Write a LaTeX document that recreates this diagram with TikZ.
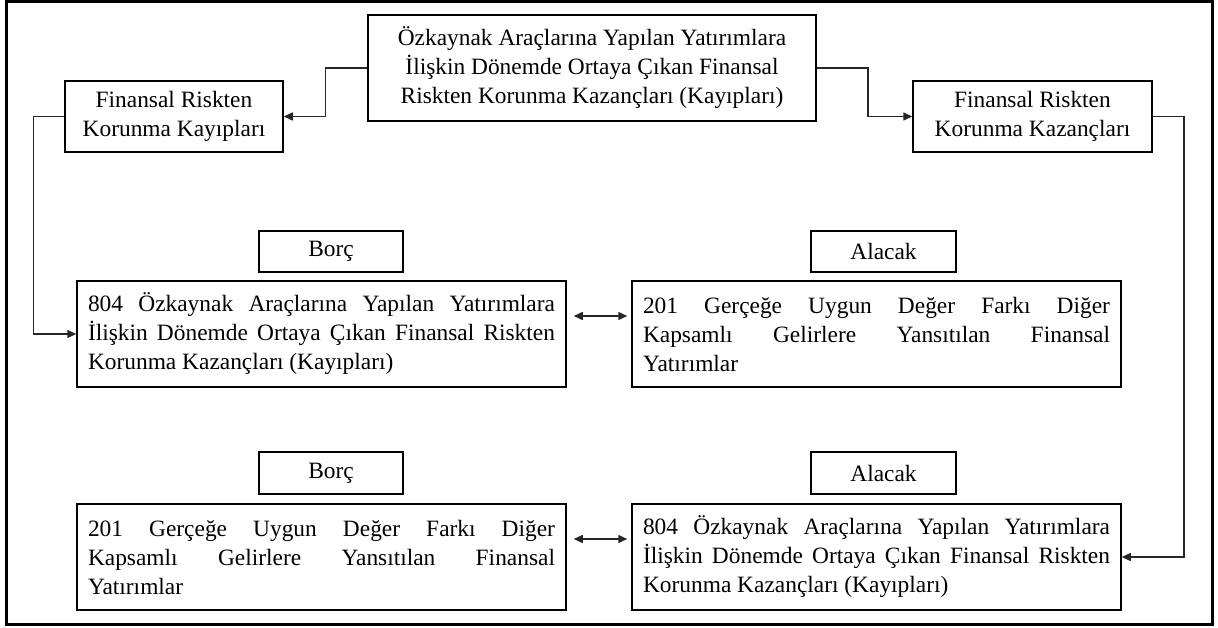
\documentclass[tikz,border=0pt]{standalone}
\usepackage{fontspec}
\setmainfont{Liberation Serif}
\usetikzlibrary{arrows.meta}
\begin{document}
\begin{tikzpicture}[x=1pt,y=-1pt,
  font=\fontsize{23.4}{29}\selectfont,
  box/.style={draw=black,line width=1.5pt,inner sep=0pt,align=center},
  jbox/.style={draw=black,line width=1.5pt,inner xsep=11pt,inner ysep=0pt,
    text width=467pt,minimum height=106pt,align=justify},
  tip/.style={Triangle[length=9pt,width=8pt]},
  link/.style={draw=black!85,line width=1.5pt,-{Triangle[length=9pt,width=8pt]}},
  both/.style={draw=black!85,line width=1.5pt,
    {Triangle[length=9pt,width=8pt]}-{Triangle[length=9pt,width=8pt]},
    shorten <=7pt,shorten >=4pt}]
  \useasboundingbox (0,0) rectangle (1218,628);
  % outer frame
  \draw[line width=3pt] (6,2) rectangle (1212,624);

  % top row
  \node[box,minimum width=448pt,minimum height=106pt] (top) at (592,68)
    {Özkaynak Araçlarına Yapılan Yatırımlara\\İlişkin Dönemde Ortaya Çıkan Finansal\\Riskten Korunma Kazançları (Kayıpları)};
  \node[box,minimum width=218pt,minimum height=71pt] (loss) at (174,116.5)
    {Finansal Riskten\\Korunma Kayıpları};
  \node[box,minimum width=239pt,minimum height=71pt] (gain) at (1032.5,116.5)
    {Finansal Riskten\\Korunma Kazançları};

  % first journal entry
  \node[box,minimum width=144pt,minimum height=41pt] (d1) at (331,251.5) {Borç};
  \node[box,minimum width=145pt,minimum height=41pt] (c1) at (883.5,251.5) {Alacak};
  \node[jbox] (m1) at (321.5,334)
    {804 Özkaynak Araçlarına Yapılan Yatırımlara\linebreak İlişkin Dönemde Ortaya Çıkan Finansal Riskten\linebreak Korunma Kazançları (Kayıpları)};
  \node[jbox] (m2) at (876.5,334)
    {201 Gerçeğe Uygun Değer Farkı Diğer\linebreak Kapsamlı Gelirlere Yansıtılan Finansal\linebreak Yatırımlar};

  % second journal entry
  \node[box,minimum width=144pt,minimum height=42pt] (d2) at (331,473) {Borç};
  \node[box,minimum width=145pt,minimum height=42pt] (c2) at (883.5,473) {Alacak};
  \node[jbox] (m3) at (321.5,557)
    {201 Gerçeğe Uygun Değer Farkı Diğer\linebreak Kapsamlı Gelirlere Yansıtılan Finansal\linebreak Yatırımlar};
  \node[jbox] (m4) at (876.5,557)
    {804 Özkaynak Araçlarına Yapılan Yatırımlara\linebreak İlişkin Dönemde Ortaya Çıkan Finansal Riskten\linebreak Korunma Kazançları (Kayıpları)};

  % connectors
  \draw[link] (top.west) -- ++(-42,0) |- (loss.east);
  \draw[link] (top.east) -- ++(51,0) |- (gain.west);
  \draw[link] (loss.west) -- ++(-31,0) |- (m1.west);
  \draw[link] (gain.east) -- ++(31,0) |- (m4.east);
  \draw[both] ([yshift=18pt]m1.east) -- ([yshift=18pt]m2.west);
  \draw[both] ([yshift=18pt]m3.east) -- ([yshift=18pt]m4.west);
\end{tikzpicture}
\end{document}
